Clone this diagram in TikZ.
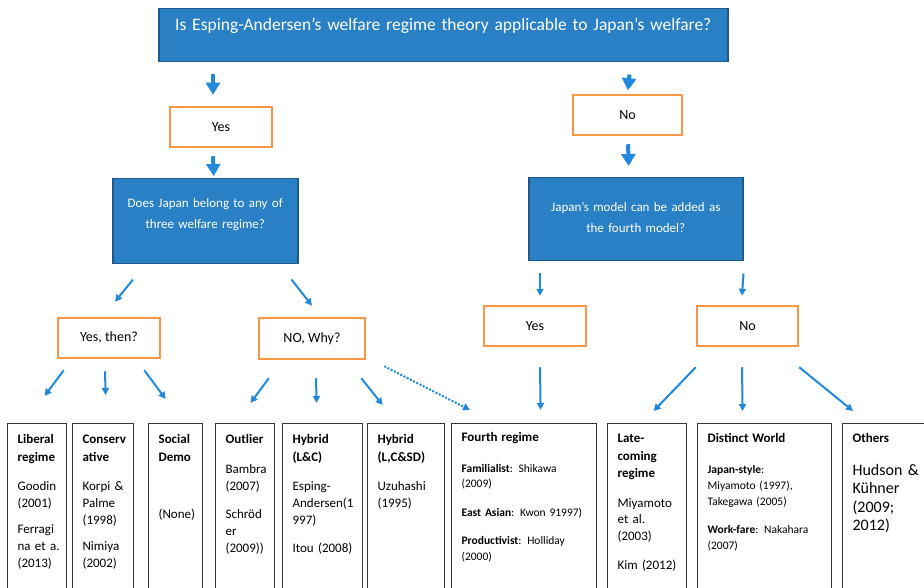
\documentclass[tikz,border=0pt]{standalone}
\usepackage{fontspec}
\setmainfont{Carlito}
\usetikzlibrary{positioning,arrows.meta}

\definecolor{qblue}{RGB}{41,128,196}
\definecolor{qedge}{RGB}{30,88,140}
\definecolor{ansorange}{RGB}{247,150,70}
\definecolor{arrblue}{RGB}{34,136,220}
\definecolor{litgray}{RGB}{55,55,55}

\newcommand{\lit}[1]{\begin{tabular}[t]{@{}l@{}}#1\end{tabular}}

\begin{document}
\begin{tikzpicture}[x=1pt, y=-1pt]
        % Define block styles
        \tikzstyle{qbox} = [rectangle, draw=qedge, line width=1.5pt, fill=qblue, text=white, align=center, anchor=north west, inner sep=0pt, font=\fontsize{13}{21}\selectfont]
        \tikzstyle{ansbox} = [rectangle, draw=ansorange, line width=2.5pt, fill=white, minimum height=40pt, font=\fontsize{14}{16}\selectfont]
        \tikzstyle{litbox} = [rectangle, draw=litgray, line width=1.2pt, anchor=north west, align=left, inner xsep=10pt, inner ysep=7.5pt, text depth=190pt, font=\fontsize{13}{17}\selectfont]
        \tikzstyle{line} = [draw=arrblue, line width=2pt, -{Triangle[length=7pt,width=7pt]}]
        \tikzstyle{bigline} = [draw=arrblue, line width=4pt, -{Triangle[length=12pt,width=14pt]}]

        \path [use as bounding box, clip] (0,0) rectangle (924,588);

        % Nodes
        \node [qbox, text width=569pt, text height=22pt, text depth=31pt, font=\fontsize{17.5}{20}\selectfont] (q1) at (158,8) {Is Esping-Andersen’s welfare regime theory applicable to Japan’s welfare?};
        \node [ansbox, minimum width=102pt] (yes1) at (221,127) {Yes};
        \node [qbox, text width=185pt, text height=29pt, text depth=56pt] (q2) at (112,178) {Does Japan belong to any of\\three welfare regime?};
        \node [ansbox, minimum width=109pt] (no1) at (627.5,115) {No};
        \node [qbox, text width=214pt, text height=34pt, text depth=49pt] (q3) at (528,177) {Japan’s model can be added as\\the fourth model?};

        \node [ansbox, minimum width=102pt] (yt) at (109,338) {Yes, then?};
        \node [ansbox, minimum width=106pt, minimum height=41pt] (nw) at (312,338.5) {NO, Why?};
        \node [ansbox, minimum width=102pt] (y2) at (535,326) {Yes};
        \node [ansbox, minimum width=101pt] (n2) at (747.5,326) {No};

        \node [litbox, text width=39pt] (lib) at (7,423) {\lit{\textbf{Liberal}\\[1pt]\textbf{regime}\\[12pt]Goodin\\(2001)\\[9pt]Ferragi\\na et a.\\(2013)}};
        \node [litbox, text width=41pt] (con) at (72,423) {\lit{\textbf{Conserv}\\[1pt]\textbf{ative}\\[12pt]Korpi \&\\Palme\\(1998)\\[9pt]Nimiya\\(2002)}};
        \node [litbox, text width=34pt] (soc) at (148,423) {\lit{\textbf{Social}\\[1pt]\textbf{Demo}\\[40pt](None)}};
        \node [litbox, text width=39pt] (out) at (215,423) {\lit{\textbf{Outlier}\\[13pt]Bambra\\(2007)\\[11pt]Schröd\\er\\(2009))}};
        \node [litbox, text width=60pt] (hlc) at (282,423) {\lit{\textbf{Hybrid}\\[1pt]\textbf{(L\&C)}\\[12pt]Esping-\\Andersen(1\\997)\\[11pt]Itou (2008)}};
        \node [litbox, text width=57pt] (hlcsd) at (367,423) {\lit{\textbf{Hybrid}\\[1pt]\textbf{(L,C\&SD)}\\[12pt]Uzuhashi\\(1995)}};
        \node [litbox, text width=125pt, font=\fontsize{11.5}{15.5}\selectfont] (fourth) at (451,423) {\lit{{\fontsize{13}{15.5}\selectfont\bfseries Fourth regime}\\[15pt]\textbf{Familialist}: Shikawa\\(2009)\\[13pt]\textbf{East Asian}: Kwon 91997)\\[13pt]\textbf{Productivist}: Holliday\\(2000)}};
        \node [litbox, text width=59pt, font=\fontsize{13}{16.5}\selectfont] (late) at (607,423) {\lit{\textbf{Late-}\\[1.5pt]\textbf{coming}\\\textbf{regime}\\[13.5pt]Miyamoto\\et al.\\(2003)\\[12.5pt]Kim (2012)}};
        \node [litbox, text width=114pt, font=\fontsize{11.5}{16}\selectfont] (dist) at (697,423) {\lit{{\fontsize{13}{16}\selectfont\bfseries Distinct World}\\[15pt]\textbf{Japan-style}:\\Miyamoto (1997),\\Takegawa (2005)\\[12pt]\textbf{Work-fare}: Nakahara\\(2007)}};
        \node [litbox, text width=80pt, inner ysep=5.5pt, font=\fontsize{16}{18.5}\selectfont] (oth) at (842,423) {\lit{{\fontsize{13}{16}\selectfont\bfseries Others}\\[14.5pt]Hudson \&\\Kühner\\(2009;\\2012)}};

        % Arrows
        \path [bigline] ([xshift=55pt,yshift=-12pt]q1.south west) -- ([xshift=-8pt,yshift=11pt]yes1.north);
        \path [bigline] ([xshift=-8pt,yshift=-8pt]yes1.south) -- ([xshift=8.5pt,yshift=2pt]q2.north);
        \path [bigline] ([xshift=-99pt,yshift=-12pt]q1.south east) -- ([xshift=0.5pt,yshift=3.5pt]no1.north);
        \path [bigline] ([xshift=0.5pt,yshift=-8pt]no1.south) -- ([xshift=-7pt,yshift=11pt]q3.north);

        \path [line] ([xshift=21pt,yshift=-15pt]q2.south west) -- ([xshift=6pt,yshift=15pt]yt.north);
        \path [line] ([xshift=-7pt,yshift=-15pt]q2.south east) -- ([yshift=11pt]nw.north);
        \path [line] ([xshift=12pt,yshift=-12pt]q3.south west) -- ([xshift=5pt,yshift=9pt]y2.north);
        \path [line] ([yshift=-12pt]q3.south east) -- ([xshift=-5.5pt,yshift=9pt]n2.north);

        \path [line] ([xshift=7pt,yshift=-11pt]yt.south west) -- ([xshift=7.5pt,yshift=27pt]lib.north);
        \path [line] ([xshift=-4pt,yshift=-12pt]yt.south) -- ([xshift=2.5pt,yshift=28pt]con.north);
        \path [line] ([xshift=-17pt,yshift=-11pt]yt.south east) -- ([xshift=-10pt,yshift=24pt]soc.north);

        \path [line] ([xshift=11pt,yshift=-18pt]nw.south west) -- ([xshift=5.5pt,yshift=20pt]out.north);
        \path [line] ([xshift=4pt,yshift=-18pt]nw.south) -- ([xshift=-6pt,yshift=20pt]hlc.north);
        \path [line] ([xshift=-5pt,yshift=-18pt]nw.south east) -- ([xshift=-23.5pt,yshift=18pt]hlcsd.north);
        \path [line, dash pattern=on 2pt off 1.6pt] ([xshift=18pt,yshift=-6pt]nw.south east) -- ([xshift=19pt,yshift=13pt]fourth.north west);

        \path [line] ([xshift=5pt,yshift=-20pt]y2.south) -- ([xshift=16.5pt,yshift=13pt]fourth.north);
        \path [line] ([yshift=-20pt]n2.south west) -- ([xshift=6.5pt,yshift=12pt]late.north);
        \path [line] ([xshift=-5.5pt,yshift=-20pt]n2.south) -- ([xshift=-22pt,yshift=12pt]dist.north);
        \path [line] ([yshift=-20pt]n2.south east) -- ([xshift=11pt,yshift=12pt]oth.north west);

    \end{tikzpicture}
\end{document}
